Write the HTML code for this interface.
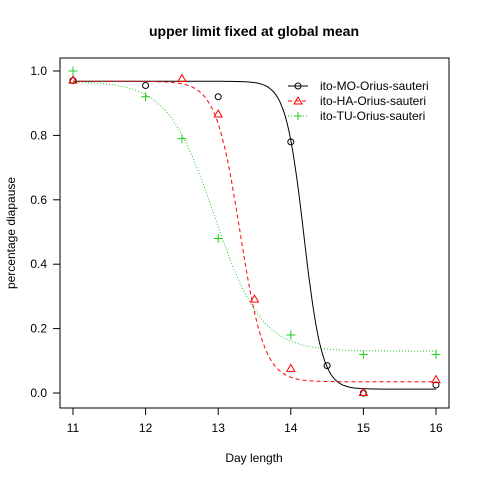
<!DOCTYPE html>
<html><head><meta charset="utf-8"><style>
body{margin:0;background:#fff}
svg{font-family:"Liberation Sans",sans-serif}
</style></head><body>
<svg id="c" width="480" height="480" viewBox="0 0 480 480">
<rect x="0" y="0" width="480" height="480" fill="#fff"/>
<text x="254" y="36" font-size="14" font-weight="bold" text-anchor="middle">upper limit fixed at global mean</text>
<rect x="60" y="58" width="389" height="350" fill="none" stroke="#000"/>
<text x="254" y="462" font-size="12" text-anchor="middle">Day length</text>
<text x="0" y="0" font-size="12" text-anchor="middle" transform="translate(15,233) rotate(-90)">percentage diapause</text>
<g id="ax"></g><g id="marks"></g>
<g>
<g><line x1="288" y1="86" x2="308" y2="86" stroke="#000"/><circle cx="298" cy="86" r="3" fill="none" stroke="#000"/><text x="320" y="90" font-size="12">ito-MO-Orius-sauteri</text></g>
<g><line x1="288" y1="101" x2="308" y2="101" stroke="#f00" stroke-dasharray="4,3"/><path d="M298,97 L302,104 L294,104 Z" fill="none" stroke="#f00"/><text x="320" y="105" font-size="12">ito-HA-Orius-sauteri</text></g>
<g><line x1="288" y1="116" x2="308" y2="116" stroke="#2c2" stroke-dasharray="1,2"/><path d="M294,116 H302 M298,112 V120" stroke="#2c2"/><text x="320" y="120" font-size="12">ito-TU-Orius-sauteri</text></g>
</g>
</svg>
<script>
const xTicks=[11,12,13,14,15,16];
const yTicks=[0,0.2,0.4,0.6,0.8,1.0];
const yTickLabels=["0.0","0.2","0.4","0.6","0.8","1.0"];
const moX=[11,12,13,14,14.5,15,16];
const moY=[0.97,0.955,0.92,0.78,0.085,0.0,0.025];
const haX=[11,12.5,13,13.5,14,15,16];
const haY=[0.97,0.975,0.865,0.29,0.075,0.0,0.04];
const tuX=[11,12,12.5,13,14,15,16];
const tuY=[1.0,0.92,0.79,0.48,0.18,0.12,0.12];
const upper=0.968;
const moFit=[0.012,14.18,8];
const haFit=[0.035,13.3,6];
const tuFit=[0.13,12.95,3.1];
const NS="http://www.w3.org/2000/svg";
const sx=v=>73+(v-11)*72.6, sy=v=>393-v*322;
function mk(t,a,p){const e=document.createElementNS(NS,t);for(const k in a)e.setAttribute(k,a[k]);p.appendChild(e);return e;}
const ax=document.getElementById('ax'),mg=document.getElementById('marks');
mk('line',{x1:sx(11),x2:sx(16),y1:408,y2:408,stroke:'#000'},ax);
xTicks.forEach(t=>{mk('line',{x1:sx(t),x2:sx(t),y1:408,y2:415,stroke:'#000'},ax);
const e=mk('text',{x:sx(t),y:432,'font-size':12,'text-anchor':'middle'},ax);e.textContent=t;
});
mk('line',{x1:60,x2:60,y1:sy(0),y2:sy(1),stroke:'#000'},ax);
yTicks.forEach((t,i)=>{mk('line',{x1:53,x2:60,y1:sy(t),y2:sy(t),stroke:'#000'},ax);
const e=mk('text',{x:47,y:sy(t)+4,'font-size':12,'text-anchor':'end'},ax);e.textContent=yTickLabels[i];
});
function curve(f,col,dash,name){let d='';for(let i=0;i<=200;i++){const x=11+5*i/200;const y=f[0]+(upper-f[0])/(1+Math.exp(f[2]*(x-f[1])));d+=(i?'L':'M')+sx(x).toFixed(1)+','+sy(y).toFixed(1);}
const p=mk('path',{d:d,fill:'none',stroke:col,'stroke-dasharray':dash},mg);
}
curve(moFit,'#000','none','mo-fit-line');curve(haFit,'#f00','4,3','ha-fit-line');curve(tuFit,'#2c2','1,2','tu-fit-line');
moX.forEach((x,i)=>{const e=mk('circle',{cx:sx(x),cy:sy(moY[i]),r:3,fill:'none',stroke:'#000'},mg);
});
haX.forEach((x,i)=>{const X=sx(x),Y=sy(haY[i]);const e=mk('path',{d:`M${X},${Y-4.5}L${X+4},${Y+2.5}L${X-4},${Y+2.5}Z`,fill:'none',stroke:'#f00'},mg);
});
tuX.forEach((x,i)=>{const X=sx(x),Y=sy(tuY[i]);const e=mk('path',{d:`M${X-4.5},${Y}H${X+4.5}M${X},${Y-4.5}V${Y+4.5}`,stroke:'#2c2'},mg);
});
</script>
</body></html>
